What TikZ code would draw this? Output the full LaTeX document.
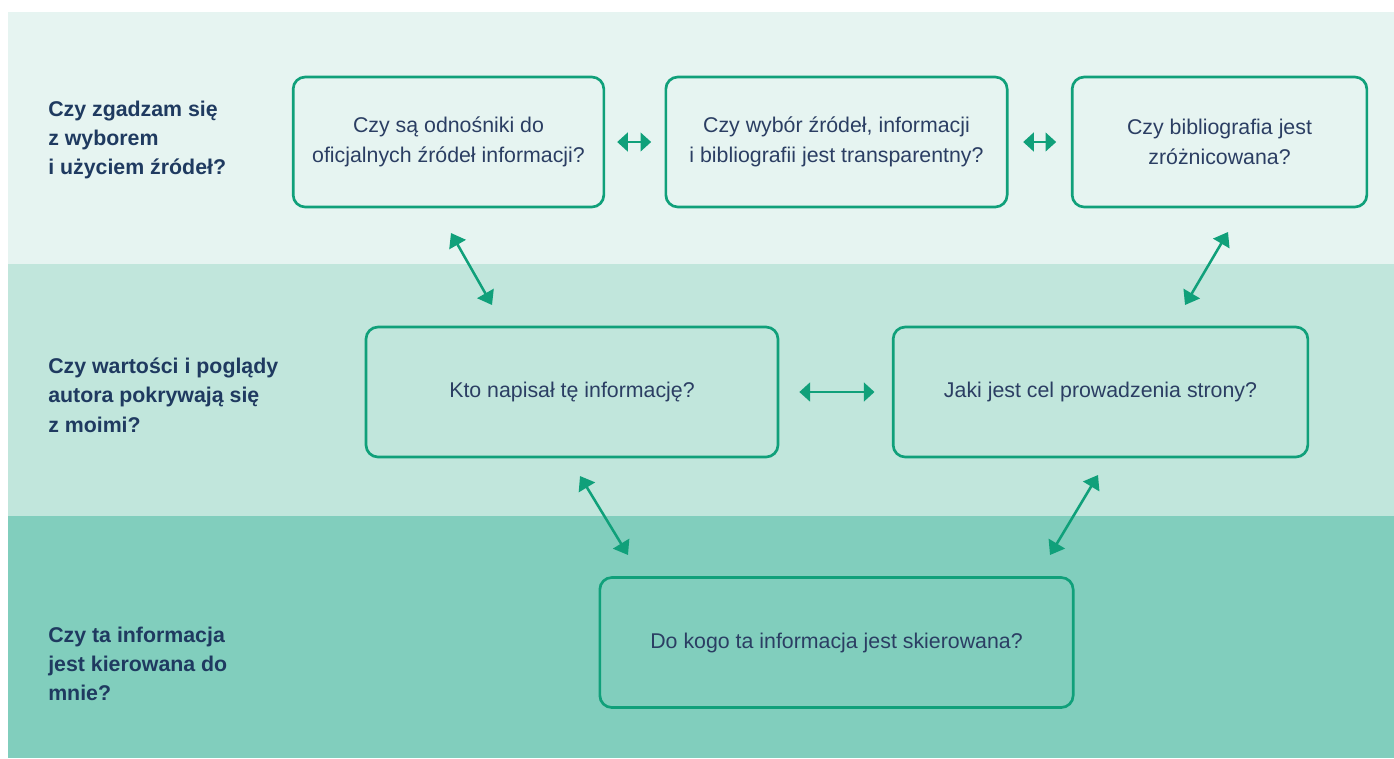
\documentclass[tikz,border=0pt]{standalone}
\usepackage{fontspec}
\setmainfont{Liberation Sans}
\usetikzlibrary{arrows.meta}
\definecolor{bandA}{HTML}{E6F4F1}
\definecolor{bandB}{HTML}{C1E6DC}
\definecolor{bandC}{HTML}{81CEBD}
\definecolor{gborder}{HTML}{10A07A}
\definecolor{boxtext}{HTML}{2B3E63}
\definecolor{labtext}{HTML}{1F3A60}
\tikzset{
  qbox/.style={draw=gborder, line width=2pt, rounded corners=9pt, inner sep=0pt,
    minimum height=97.5pt, align=center, text=boxtext,
    font=\fontsize{16}{22.5}\selectfont},
  rowlabel/.style={anchor=west, align=left, text=labtext, inner sep=0pt,
    font=\fontsize{16}{22}\selectfont\bfseries},
  arr/.style={draw=gborder, line width=1.9pt,
    {Triangle[length=10pt,width=14pt]}-{Triangle[length=10pt,width=14pt]}},
  harr/.style={draw=gborder, line width=1.9pt,
    {Triangle[length=8pt,width=14pt]}-{Triangle[length=8pt,width=14pt]}},
}
\begin{document}
\begin{tikzpicture}[x=0.75pt,y=-0.75pt]
\useasboundingbox (0,0) rectangle (1394,758);
\fill[white] (0,0) rectangle (1394,758);
\fill[bandA] (8,12) rectangle (1394,264);
\fill[bandB] (8,264) rectangle (1394,516);
\fill[bandC] (8,516) rectangle (1394,758);

\node[rowlabel] (l1) at (48,140) {Czy zgadzam się\\z wyborem\\i użyciem źródeł?};
\node[rowlabel] (l2) at (48,395) {Czy wartości i poglądy\\autora pokrywają się\\z moimi?};
\node[rowlabel] (l3) at (48,664) {Czy ta informacja\\jest kierowana do\\mnie?};

\node[qbox, minimum width=233pt] (a) at (448.5,142) {Czy są odnośniki do\\oficjalnych źródeł informacji?};
\node[qbox, minimum width=256pt] (b) at (836.5,142) {Czy wybór źródeł, informacji\\i bibliografii jest transparentny?};
\node[qbox, minimum width=221pt] (c) at (1219.5,142) {Czy bibliografia jest\\zróżnicowana?};
\node[qbox, minimum width=309pt] (d) at (572,392) {Kto napisał tę informację?};
\node[qbox, minimum width=311pt] (e) at (1100.5,392) {Jaki jest cel prowadzenia strony?};
\node[qbox, minimum width=355pt] (f) at (836.5,642.5) {Do kogo ta informacja jest skierowana?};

\draw[harr, shorten <=9pt, shorten >=10pt] (a.east) -- (b.west);
\draw[harr, shorten <=11pt, shorten >=11pt] (b.east) -- (c.west);
\draw[harr, shorten <=15pt, shorten >=13pt] (d.east) -- (e.west);

\coordinate (ad1) at (451,233); \coordinate (ad2) at (492,305);
\coordinate (ce1) at (1228,232); \coordinate (ce2) at (1185,305);
\coordinate (df1) at (580,476); \coordinate (df2) at (628,555);
\coordinate (ef1) at (1098,475); \coordinate (ef2) at (1050,555);
\draw[arr] (ad1) -- (ad2);
\draw[arr] (ce1) -- (ce2);
\draw[arr] (df1) -- (df2);
\draw[arr] (ef1) -- (ef2);
\end{tikzpicture}
\end{document}
